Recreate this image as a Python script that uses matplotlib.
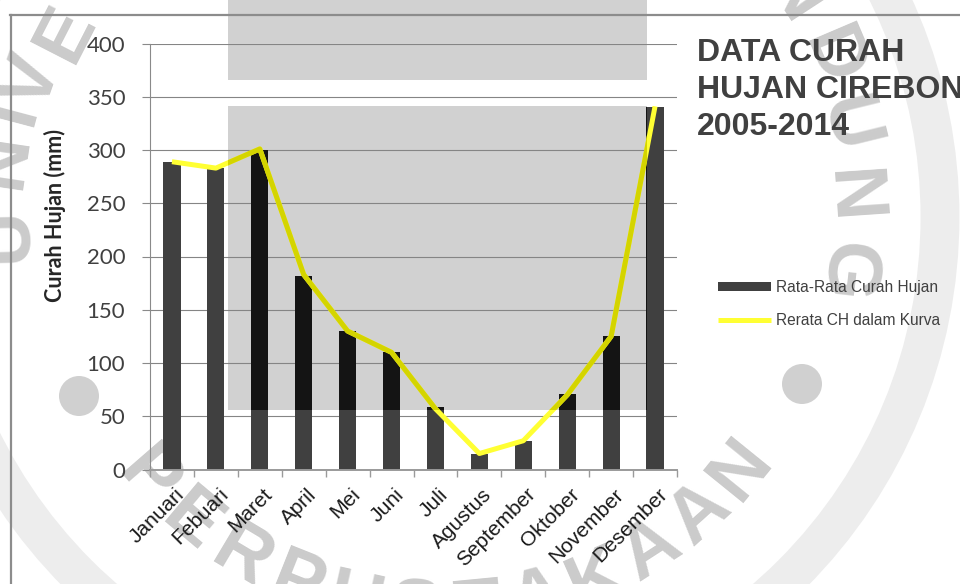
import matplotlib
matplotlib.use("Agg")
import matplotlib.pyplot as plt
import numpy as np
from matplotlib.patches import Rectangle, Circle
from matplotlib.lines import Line2D
from matplotlib.transforms import Affine2D, ScaledTranslation

# ---- data -------------------------------------------------------------
bulan = ["Januari", "Febuari", "Maret", "April", "Mei", "Juni", "Juli",
         "Agustus", "September", "Oktober", "November", "Desember"]
rata_rata_ch = [289, 283, 300, 182, 130, 110, 59, 15, 27, 71, 125, 340]
kurva_ch = [289, 283, 301, 183, 130, 110, 57, 15, 27, 70, 125, 341]
y_ticks = [0, 50, 100, 150, 200, 250, 300, 350, 400]
legend_labels = ["Rata-Rata Curah Hujan", "Rerata CH dalam Kurva"]
judul = "DATA CURAH\nHUJAN CIREBON\n2005-2014"
label_y = "Curah Hujan (mm)"

# library stamp letters
cap_atas = [("U", 6, 235), ("N", 4, 160), ("I", 14, 112), ("V", 34, 82),
            ("E", 66, 33), ("N", 792, -5), ("D", 832, 58), ("U", 847, 125),
            ("N", 850, 197), ("G", 845, 272)]
cap_bawah = "PERPUSTAKAAN"

# ---- figure -----------------------------------------------------------
W, H = 960, 584
fig = plt.figure(figsize=(W / 100, H / 100), dpi=100)
fig.patch.set_facecolor("white")
# pixel coordinates (origin top-left) -> display
px = Affine2D().scale(1 / W, -1 / H).translate(0, 1) + fig.transFigure

# ---- background stamp -------------------------------------------------
stamp_grey = "#cbcbcb"
fig.add_artist(Circle((435, 217), 505, fill=False, lw=28, ec="#ededed",
                      transform=px, zorder=-5))
for cx, cy in [(79, 396), (802, 384)]:
    fig.add_artist(Circle((cx, cy), 20, fc="#d0d0d0", ec="none",
                          transform=px, zorder=-4))
cx0, cy0 = 440, 225
for ch, x, y in cap_atas:
    th = np.degrees(np.arctan2(y - cy0, x - cx0))
    fig.text(x / W, 1 - y / H, ch, rotation=-90 - th, rotation_mode="anchor",
             ha="center", va="center", fontsize=55, fontweight="bold",
             family="Liberation Sans", color=stamp_grey, zorder=-4)
angles = np.linspace(139, 39, len(cap_bawah))
for ch, th in zip(cap_bawah, angles):
    x = cx0 + 388 * np.cos(np.radians(th))
    y = cy0 + 388 * np.sin(np.radians(th))
    fig.text(x / W, 1 - y / H, ch, rotation=90 - th, rotation_mode="anchor",
             ha="center", va="center", fontsize=55, fontweight="bold",
             family="Liberation Sans", color=stamp_grey, zorder=-4)

blok_grey = "#d1d1d1"
fig.add_artist(Rectangle((228, 0), 419, 80, fc=blok_grey, ec="none",
                         transform=px, zorder=-3))
fig.add_artist(Rectangle((228, 106), 419, 304, fc=blok_grey, ec="none",
                         transform=px, zorder=-3))
blok_clip = Rectangle((228, 106), 419, 304, transform=px)

# chart frame
frame_c = "#8c8c8c"
fig.add_artist(Line2D([10, 960], [15, 15], color=frame_c, lw=1.6, transform=px))
fig.add_artist(Line2D([11, 11], [15, 584], color=frame_c, lw=1.6, transform=px))

# ---- axes -------------------------------------------------------------
ax = fig.add_axes([150 / W, 1 - 469.5 / H, 527 / W, 426 / H])
ax.set_facecolor("none")
x = np.arange(len(bulan))

bars = ax.bar(x, rata_rata_ch, width=0.39, color="#404040", zorder=2)
bars_dark = ax.bar(x, rata_rata_ch, width=0.39, color="#141414", zorder=2.1)
for b in bars_dark:
    b.set_clip_path(blok_clip)

line, = ax.plot(x, kurva_ch, color="#ffff33", lw=3.6,
                solid_joinstyle="round", solid_capstyle="butt", zorder=3)
line_dark, = ax.plot(x, kurva_ch, color="#d4d400", lw=3.6,
                     solid_joinstyle="round", solid_capstyle="butt", zorder=3.1)
line_dark.set_clip_path(blok_clip)

ax.set_xlim(-0.5, len(bulan) - 0.5)
ax.set_ylim(0, 400)
ax.set_yticks(y_ticks)
ax.yaxis.grid(True, color="#858585", lw=0.8, zorder=0)
ax.set_axisbelow(True)

for s in ["top", "right"]:
    ax.spines[s].set_visible(False)
ax.spines["left"].set_color("#8a8a8a")
ax.spines["left"].set_linewidth(0.8)
ax.spines["bottom"].set_color("#9a9a9a")
ax.spines["bottom"].set_linewidth(1.4)

ax.tick_params(axis="y", direction="out", length=5.8, width=0.8,
               color="#8a8a8a", pad=12, labelsize=16, labelcolor="#404040")
for lab in ax.get_yticklabels():
    lab.set_family("Lato")

ax.set_xticks(x)
ax.set_xticklabels(bulan, rotation=45, ha="right", va="top",
                   rotation_mode="anchor", family="Liberation Sans",
                   fontsize=15, color="#1a1a1a")
ax.tick_params(axis="x", which="major", length=0, pad=11)
ax.set_xticks(np.arange(-0.5, len(bulan)), minor=True)
ax.tick_params(axis="x", which="minor", direction="out", length=5,
               width=1, color="#9a9a9a")
for lab in ax.get_xticklabels():
    lab.set_transform(lab.get_transform() +
                      ScaledTranslation(3 / 100, 0, fig.dpi_scale_trans))

fig.text(55 / W, 1 - 215 / H, label_y, rotation=90, ha="center",
         va="center", fontsize=15.5, fontweight="bold", family="Lato",
         color="#262626")

fig.text(697 / W, 1 - 38 / H, judul, ha="left", va="top", fontsize=23,
         fontweight="bold", family="Liberation Sans", color="#404040",
         linespacing=1.3)

leg = ax.legend([bars, line], legend_labels, loc="upper left",
                bbox_to_anchor=(718 / W, 1 - 280 / H),
                bbox_transform=fig.transFigure, frameon=False,
                borderpad=0, borderaxespad=0, handlelength=3.4,
                handleheight=0.6, handletextpad=0.35, labelspacing=1.15,
                prop={"family": "Liberation Sans", "size": 11.2})
for t in leg.get_texts():
    t.set_color("#404040")

fig.savefig("out.png", dpi=100, facecolor="white")
